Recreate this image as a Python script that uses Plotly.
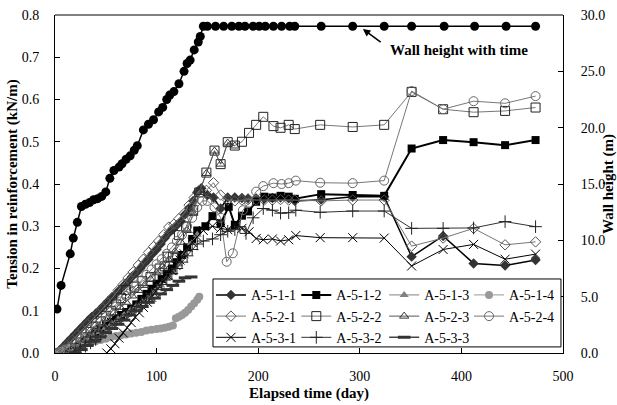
import plotly.graph_objects as go

# ---------------- data ----------------
wall_days = [2, 6, 15, 18, 22, 26, 30, 34, 38, 42, 46, 50, 54, 58, 63, 66, 70, 74, 78, 81,
             87, 92, 97, 102, 106, 110, 113, 117, 122, 127, 130, 133, 137, 141, 143, 146,
             150, 158, 166, 174, 181, 187, 195, 201, 207, 215, 223, 231, 236, 262, 293,
             324, 351, 383, 413, 444, 473]
wall_h = [3.9, 6.0, 8.8, 10.2, 11.6, 13.0, 13.2, 13.35, 13.6, 13.7, 13.9, 14.3, 15.5, 16.2,
          16.5, 16.8, 17.2, 17.5, 18.0, 18.4, 19.8, 20.3, 20.7, 21.4, 21.8, 22.5, 22.9, 23.2,
          23.9, 25.0, 25.7, 26.0, 26.9, 27.6, 28.1, 29.0,
          29.0, 29.0, 29.0, 29.0, 29.0, 29.0, 29.0, 29.0, 29.0, 29.0, 29.0, 29.0, 29.0, 29.0,
          29.0, 29.0, 29.0, 29.0, 29.0, 29.0, 29.0]

d_111 = [0, 4, 8, 12, 16, 20, 24, 28, 32, 36, 40, 44, 48, 52, 56, 60, 64, 68, 72, 76, 80, 84,
         88, 92, 96, 100, 104, 108, 112, 116, 120, 124, 128, 132, 136, 140, 144, 150, 156,
         163, 170, 177, 184, 190, 198, 206, 214, 222, 230, 236, 262, 293, 324, 351, 382,
         412, 443, 473]
t_111 = [0.0, 0.005, 0.015, 0.025, 0.035, 0.045, 0.055, 0.065, 0.075, 0.085, 0.093, 0.102,
         0.112, 0.122, 0.132, 0.14, 0.15, 0.16, 0.17, 0.181, 0.19, 0.2, 0.212, 0.222, 0.235,
         0.245, 0.258, 0.272, 0.284, 0.293, 0.303, 0.312, 0.328, 0.343, 0.36, 0.38, 0.39,
         0.374, 0.368, 0.342, 0.368, 0.368, 0.367, 0.366, 0.366, 0.365, 0.367, 0.368, 0.366,
         0.36, 0.363, 0.37, 0.37, 0.228, 0.277, 0.212, 0.207, 0.22]

d_112 = [15, 20, 25, 30, 35, 40, 45, 50, 55, 60, 65, 70, 75, 80, 85, 90, 95, 100, 105, 110,
         115, 120, 125, 130, 135, 140, 148, 155, 163, 171, 177, 184, 190, 198, 206, 214,
         222, 230, 236, 262, 293, 324, 351, 382, 412, 443, 473]
t_112 = [0.0, 0.01, 0.02, 0.03, 0.04, 0.05, 0.058, 0.066, 0.074, 0.082, 0.09, 0.097, 0.105,
         0.115, 0.128, 0.14, 0.152, 0.164, 0.175, 0.188, 0.2, 0.215, 0.232, 0.25, 0.27, 0.29,
         0.3, 0.324, 0.307, 0.346, 0.303, 0.325, 0.335, 0.358, 0.37, 0.368, 0.372, 0.37,
         0.365, 0.376, 0.374, 0.372, 0.484, 0.504, 0.499, 0.492, 0.504]

d_113 = [8, 14, 20, 26, 32, 38, 44, 50, 56, 62, 68, 74, 80, 86, 92, 98, 104, 110, 116, 122,
         128, 134, 140]
t_113 = [0.0, 0.005, 0.012, 0.02, 0.03, 0.04, 0.05, 0.06, 0.07, 0.08, 0.09, 0.1, 0.11, 0.12,
         0.13, 0.145, 0.16, 0.175, 0.19, 0.21, 0.235, 0.26, 0.28]

d_114 = [0, 5, 10, 15, 20, 25, 30, 35, 40, 45, 50, 55, 60, 65, 70, 75, 80, 85, 90, 95, 100,
         104, 108, 112, 116, 119, 122, 125, 128, 131, 134, 137, 140, 142]
t_114 = [0.0, 0.005, 0.01, 0.013, 0.016, 0.019, 0.022, 0.025, 0.028, 0.031, 0.034, 0.037,
         0.04, 0.042, 0.044, 0.046, 0.048, 0.05, 0.053, 0.055, 0.057, 0.058, 0.06, 0.062,
         0.065, 0.082, 0.086, 0.09, 0.095, 0.102, 0.11, 0.118, 0.126, 0.133]

d_121 = [2, 7, 12, 17, 22, 27, 32, 37, 42, 47, 52, 57, 62, 67, 72, 77, 82, 87, 92, 97, 102,
         107, 112, 117, 122, 127, 132, 137, 142, 149, 156, 163, 170, 177, 184, 190, 198, 206,
         214, 222, 230, 236, 262, 293, 324, 351, 382, 412, 443, 473]
t_121 = [0.0, 0.008, 0.018, 0.03, 0.042, 0.055, 0.068, 0.08, 0.092, 0.105, 0.118, 0.132,
         0.148, 0.162, 0.178, 0.192, 0.208, 0.222, 0.238, 0.252, 0.265, 0.28, 0.298, 0.305,
         0.318, 0.33, 0.35, 0.368, 0.385, 0.385, 0.403, 0.374, 0.362, 0.36, 0.362, 0.363,
         0.362, 0.362, 0.362, 0.363, 0.362, 0.362, 0.36, 0.362, 0.362, 0.253, 0.272, 0.295,
         0.256, 0.263]

d_122 = [15, 20, 25, 30, 35, 40, 45, 50, 55, 60, 65, 70, 78, 86, 94, 103, 108, 111, 116, 122,
         129, 136, 142, 149, 157, 163, 170, 177, 184, 191, 198, 205, 215, 222, 230, 236, 261,
         293, 324, 351, 382, 412, 443, 473]
t_122 = [0.0, 0.012, 0.025, 0.037, 0.05, 0.062, 0.075, 0.088, 0.1, 0.115, 0.13, 0.149, 0.157,
         0.17, 0.18, 0.2, 0.205, 0.228, 0.228, 0.279, 0.299, 0.338, 0.38, 0.427, 0.479, 0.447,
         0.499, 0.491, 0.5, 0.521, 0.54, 0.559, 0.537, 0.533, 0.54, 0.53, 0.54, 0.535, 0.54,
         0.618, 0.577, 0.57, 0.573, 0.581]

d_123 = [10, 16, 22, 28, 34, 40, 46, 52, 58, 64, 70, 76, 82, 88, 94, 100, 106, 112, 118, 124,
         130, 136, 142, 149, 157, 163, 170, 177]
t_123 = [0.0, 0.008, 0.018, 0.03, 0.042, 0.055, 0.068, 0.08, 0.095, 0.108, 0.12, 0.135, 0.148,
         0.16, 0.175, 0.19, 0.205, 0.22, 0.24, 0.262, 0.29, 0.33, 0.38, 0.425, 0.478, 0.447,
         0.497, 0.49]

d_124 = [5, 10, 15, 20, 25, 30, 35, 40, 45, 50, 55, 60, 65, 70, 75, 80, 85, 90, 95, 100, 105,
         110, 115, 120, 125, 130, 135, 140, 145, 150, 157, 163, 169, 175, 185, 191, 198, 205,
         215, 223, 230, 237, 261, 293, 324, 351, 382, 412, 443, 473]
t_124 = [0.0, 0.008, 0.015, 0.025, 0.035, 0.045, 0.055, 0.065, 0.075, 0.085, 0.097, 0.11,
         0.122, 0.135, 0.148, 0.16, 0.172, 0.185, 0.198, 0.21, 0.222, 0.235, 0.25, 0.265,
         0.28, 0.3, 0.32, 0.345, 0.36, 0.36, 0.345, 0.32, 0.216, 0.236, 0.338, 0.356, 0.382,
         0.395, 0.402, 0.4, 0.402, 0.408, 0.403, 0.402, 0.408, 0.62, 0.577, 0.596, 0.591,
         0.608]

d_131 = [51, 55, 59, 63, 67, 71, 75, 79, 83, 87, 91, 95, 99, 103, 107, 111, 115, 119, 123, 127,
         131, 135, 140, 146, 155, 163, 170, 178, 184, 191, 198, 205, 214, 222, 230, 237, 261,
         293, 324, 351, 382, 412, 443, 473]
t_131 = [0.0, 0.01, 0.022, 0.035, 0.048, 0.06, 0.072, 0.085, 0.095, 0.108, 0.12, 0.132, 0.145,
         0.158, 0.17, 0.183, 0.195, 0.207, 0.22, 0.235, 0.25, 0.262, 0.275, 0.29, 0.3, 0.295,
         0.292, 0.303, 0.295, 0.287, 0.271, 0.268, 0.27, 0.265, 0.268, 0.278, 0.273, 0.273,
         0.272, 0.206, 0.245, 0.257, 0.222, 0.234]

d_132 = [20, 25, 30, 35, 40, 45, 50, 55, 60, 65, 70, 75, 80, 85, 90, 95, 100, 105, 110, 115,
         120, 125, 130, 135, 140, 146, 155, 163, 170, 177, 182, 188, 195, 205, 214, 222, 230,
         237, 261, 293, 324, 351, 382, 412, 443, 473]
t_132 = [0.0, 0.008, 0.016, 0.024, 0.032, 0.04, 0.05, 0.06, 0.07, 0.08, 0.09, 0.1, 0.11, 0.12,
         0.13, 0.14, 0.15, 0.162, 0.175, 0.188, 0.2, 0.215, 0.23, 0.245, 0.258, 0.265, 0.27,
         0.28, 0.288, 0.292, 0.299, 0.283, 0.32, 0.342, 0.338, 0.331, 0.332, 0.338, 0.333,
         0.336, 0.336, 0.295, 0.295, 0.296, 0.311, 0.299]

d_133 = [20, 26, 32, 38, 44, 50, 56, 62, 68, 74, 80, 86, 92, 98, 104, 110, 116, 122, 128, 134]
t_133 = [0.0, 0.008, 0.018, 0.028, 0.038, 0.048, 0.058, 0.068, 0.078, 0.09, 0.1, 0.11, 0.12,
         0.13, 0.14, 0.15, 0.16, 0.17, 0.178, 0.18]

x_ticks = [0, 100, 200, 300, 400, 500]
y_ticks = [0.0, 0.1, 0.2, 0.3, 0.4, 0.5, 0.6, 0.7, 0.8]
y2_ticks = [0.0, 5.0, 10.0, 15.0, 20.0, 25.0, 30.0]

FONT = "Liberation Serif"

# legend column assignment (4 columns x 3 rows, filled row-wise like the reference)
series = [
    ("A-5-1-1", d_111, t_111, dict(color="black", width=1.5), dict(symbol="diamond", size=8, color="#333333"), "legend"),
    ("A-5-1-2", d_112, t_112, dict(color="black", width=2), dict(symbol="square", size=8, color="black"), "legend2"),
    ("A-5-1-3", d_113, t_113, dict(color="#808080", width=1), dict(symbol="triangle-up", size=8, color="#808080"), "legend3"),
    ("A-5-1-4", d_114, t_114, dict(color="#999999", width=1), dict(symbol="circle", size=8, color="#999999"), "legend4"),
    ("A-5-2-1", d_121, t_121, dict(color="#777777", width=1), dict(symbol="diamond-open", size=8, color="#555555", line=dict(width=1)), "legend"),
    ("A-5-2-2", d_122, t_122, dict(color="#777777", width=1), dict(symbol="square-open", size=9, color="#222222", line=dict(width=1)), "legend2"),
    ("A-5-2-3", d_123, t_123, dict(color="#555555", width=1), dict(symbol="triangle-up-open", size=8, color="#333333", line=dict(width=1)), "legend3"),
    ("A-5-2-4", d_124, t_124, dict(color="#777777", width=1), dict(symbol="circle-open", size=9, color="#666666", line=dict(width=1)), "legend4"),
    ("A-5-3-1", d_131, t_131, dict(color="black", width=1), dict(symbol="x-thin", size=9, color="black", line=dict(width=1, color="black")), "legend"),
    ("A-5-3-2", d_132, t_132, dict(color="#333333", width=1), dict(symbol="cross-thin", size=9, color="#222222", line=dict(width=1, color="#222222")), "legend2"),
    ("A-5-3-3", d_133, t_133, dict(color="#444444", width=1.5), dict(symbol="line-ew", size=9, color="#333333", line=dict(width=3, color="#333333")), "legend3"),
]

fig = go.Figure()

fig.add_trace(go.Scatter(x=wall_days, y=wall_h, yaxis="y2", mode="lines+markers",
                         line=dict(color="black", width=1.5),
                         marker=dict(symbol="circle", size=9, color="black"),
                         showlegend=False, name="Wall height"))

for name, dx, ty, ln, mk, lg in series:
    fig.add_trace(go.Scatter(x=dx, y=ty, mode="lines+markers", name=name, line=ln, marker=mk,
                             legend=lg))

leg_common = dict(orientation="v", xanchor="left", yanchor="top", y=0.218,
                  bgcolor="rgba(0,0,0,0)", borderwidth=0,
                  font=dict(family=FONT, size=14, color="black"),
                  tracegroupgap=0, itemwidth=30)

fig.update_layout(
    width=617, height=405,
    margin=dict(l=55, r=54, t=15, b=52),
    paper_bgcolor="white", plot_bgcolor="white",
    font=dict(family=FONT, size=14, color="black"),
    xaxis=dict(range=[0, 500], tickvals=x_ticks, ticktext=[str(v) for v in x_ticks],
               ticks="inside", ticklen=5, tickcolor="black", showline=True, linecolor="black",
               linewidth=1, showgrid=False, zeroline=False, ticklabelstandoff=10, automargin=False,
               title=dict(text="<b>Elapsed time (day)</b>", font=dict(size=15), standoff=4)),
    yaxis=dict(range=[0, 0.8], tickvals=y_ticks, ticktext=["%.1f" % v for v in y_ticks],
               ticks="inside", ticklen=5, tickcolor="black", showline=True, linecolor="black",
               linewidth=1, showgrid=False, zeroline=False, ticklabelstandoff=12, automargin=False,
               title=dict(text="<b>Tension in reinforcement (kN/m)</b>", font=dict(size=15), standoff=0)),
    yaxis2=dict(range=[0, 30], tickvals=y2_ticks, ticktext=["%.1f" % v for v in y2_ticks],
                overlaying="y", side="right", ticks="inside", ticklen=5, tickcolor="black",
                showline=True, linecolor="black", linewidth=1, showgrid=False, zeroline=False,
                ticklabelstandoff=14, automargin=False,
                title=dict(text="<b>Wall height (m)</b>", font=dict(size=15), standoff=0)),
    legend=dict(x=0.307, **leg_common),
    legend2=dict(x=0.475, **leg_common),
    legend3=dict(x=0.648, **leg_common),
    legend4=dict(x=0.815, **leg_common),
    shapes=[
        dict(type="line", xref="paper", yref="paper", x0=0, x1=1, y0=1, y1=1,
             line=dict(color="#808080", width=2)),
        dict(type="rect", xref="paper", yref="paper", x0=0.311, x1=0.996, y0=0.018, y1=0.219,
             line=dict(color="black", width=1), fillcolor="white", layer="above"),
    ],
    annotations=[
        dict(x=303, y=0.767, xref="x", yref="y", ax=322, ay=0.733, axref="x", ayref="y",
             text="", showarrow=True, arrowhead=2, arrowsize=1, arrowwidth=1.5, arrowcolor="black"),
        dict(x=398, y=0.716, xref="x", yref="y", text="<b>Wall height with time</b>",
             showarrow=False, font=dict(family=FONT, size=15, color="black")),
    ],
)

fig.write_html("out.html")
